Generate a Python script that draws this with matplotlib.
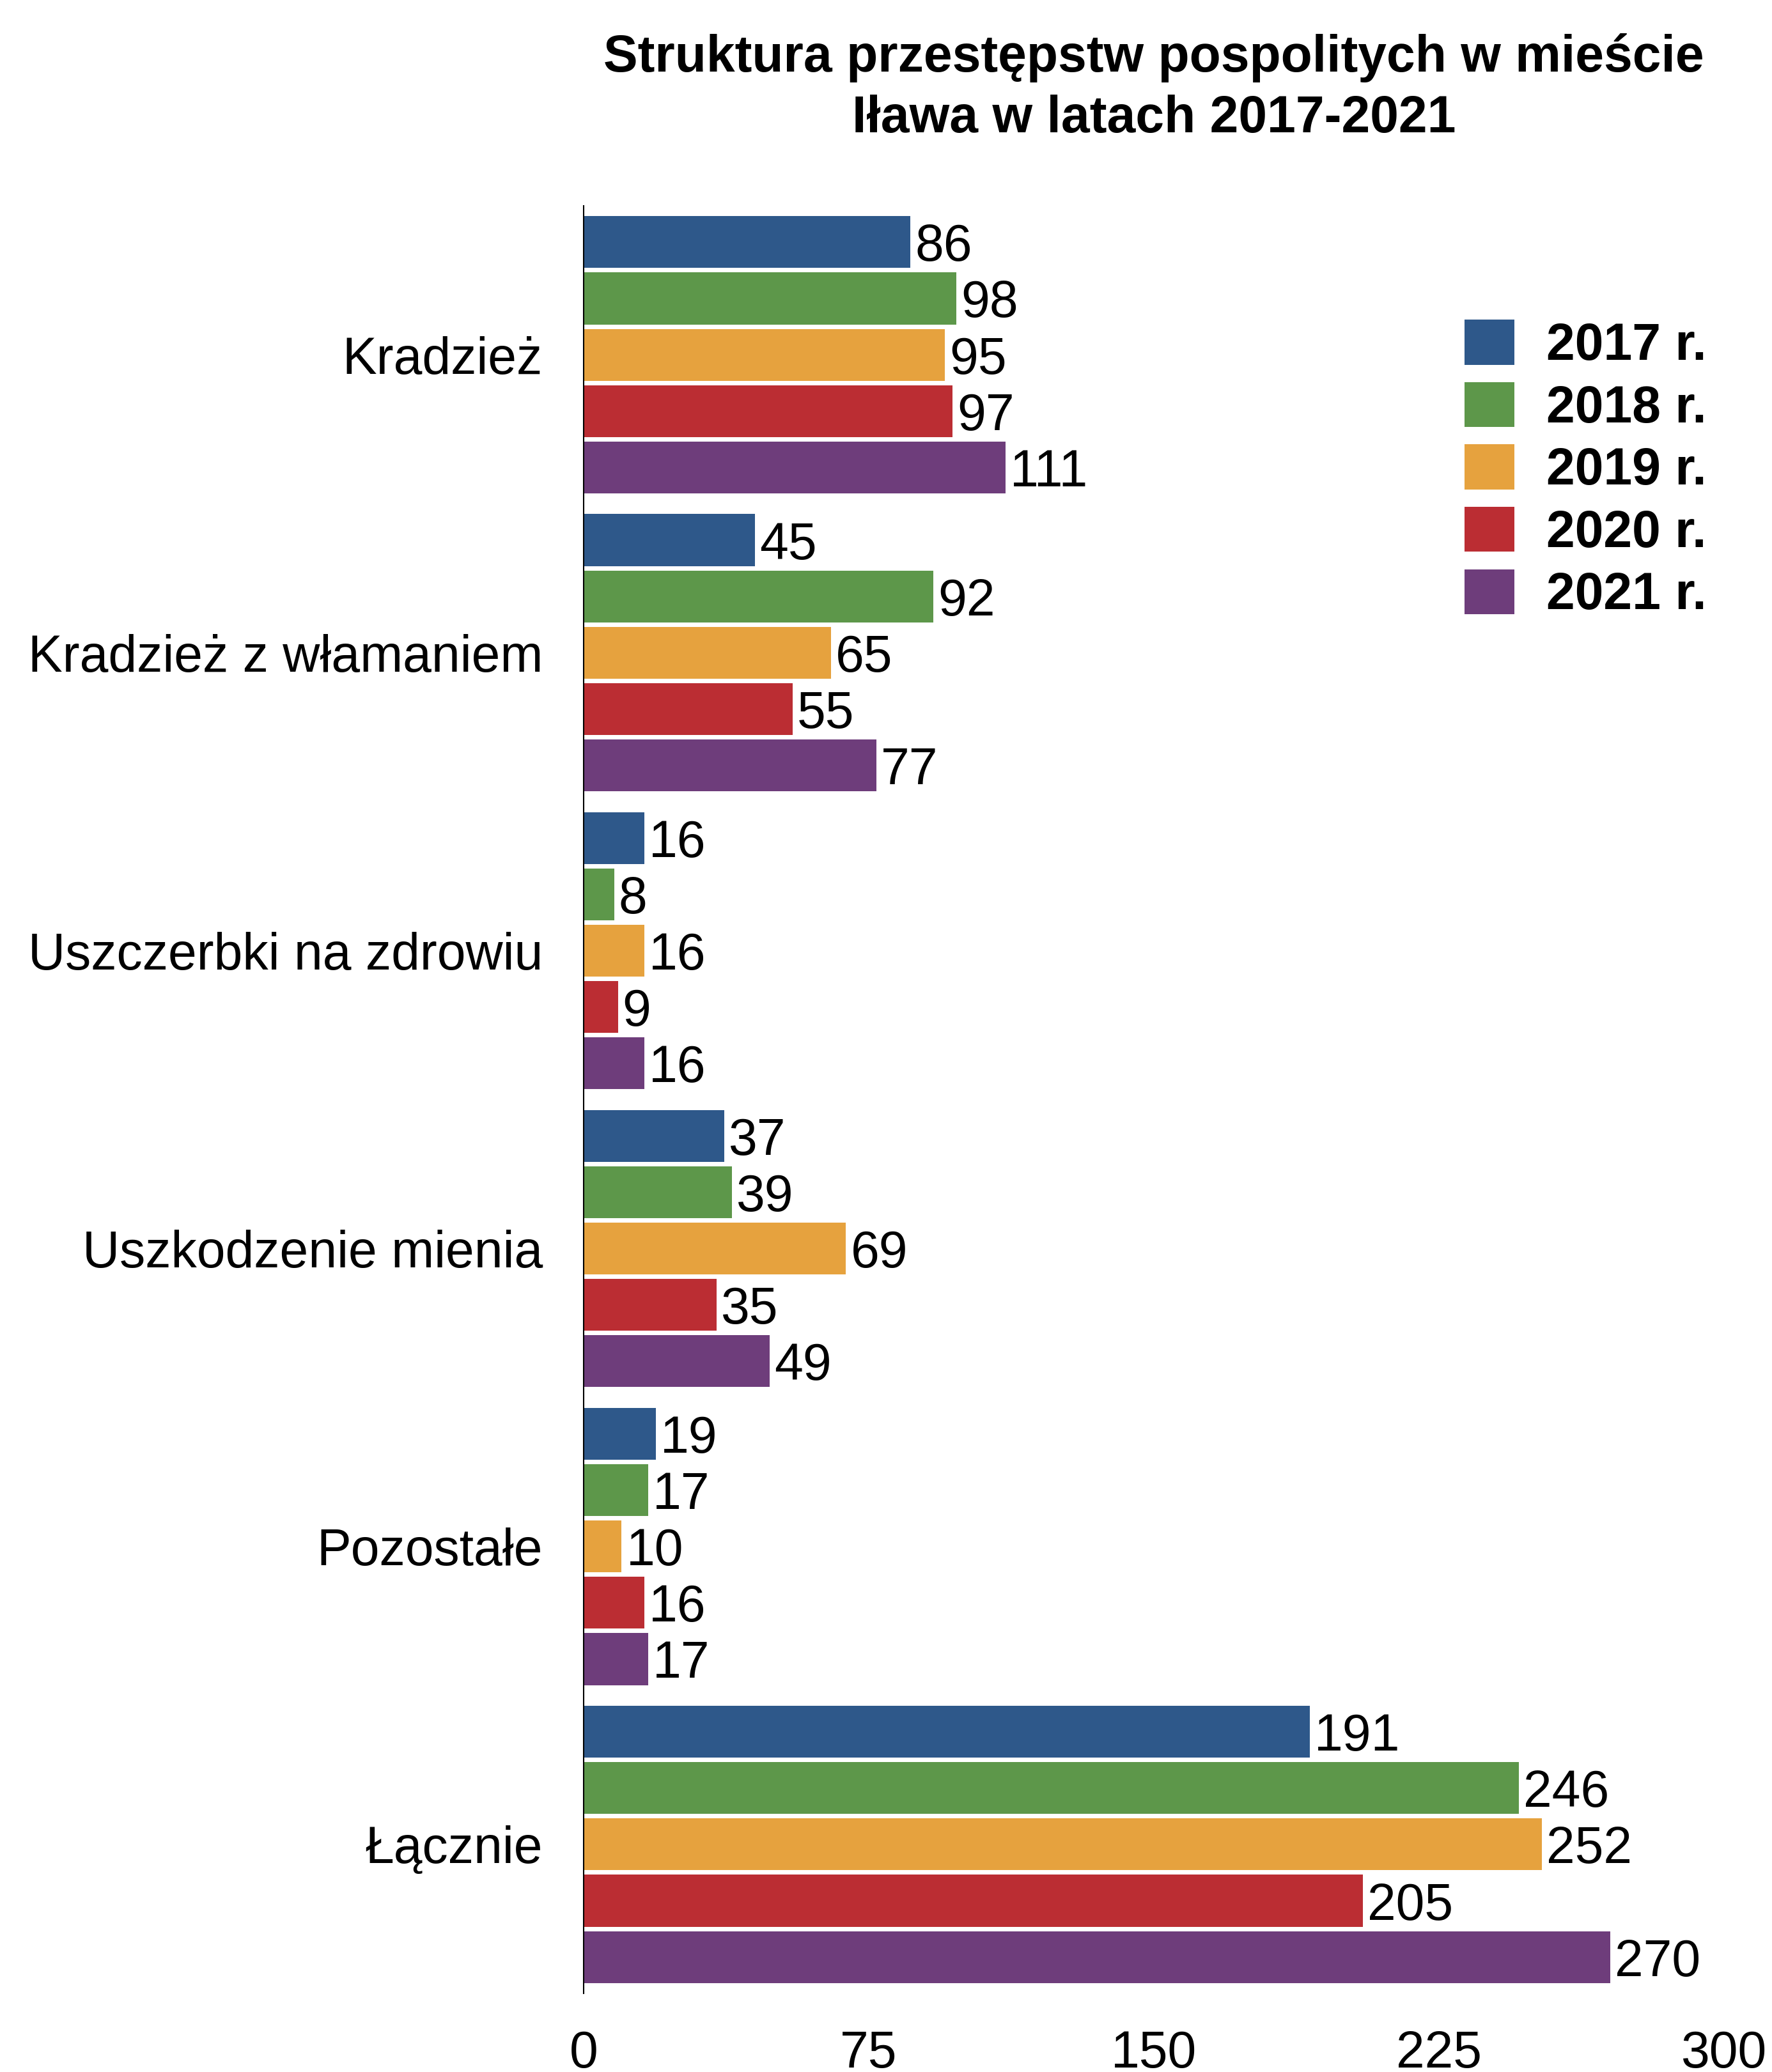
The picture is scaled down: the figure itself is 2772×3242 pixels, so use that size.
import matplotlib
matplotlib.use("Agg")
import matplotlib.pyplot as plt
import numpy as np

plt.rcParams['font.family'] = ['Liberation Sans', 'DejaVu Sans']

categories = ["Kradzież", "Kradzież z włamaniem", "Uszczerbki na zdrowiu",
              "Uszkodzenie mienia", "Pozostałe", "Łącznie"]
years = ["2017 r.", "2018 r.", "2019 r.", "2020 r.", "2021 r."]
v2017 = [86, 45, 16, 37, 19, 191]
v2018 = [98, 92, 8, 39, 17, 246]
v2019 = [95, 65, 16, 69, 10, 252]
v2020 = [97, 55, 9, 35, 16, 205]
v2021 = [111, 77, 16, 49, 17, 270]
series = [v2017, v2018, v2019, v2020, v2021]
colors = ["#2E588A", "#5D974A", "#E6A23E", "#BB2D33", "#6E3D7B"]
xticks = [0, 75, 150, 225, 300]
title = "Struktura przestępstw pospolitych w mieście\nIława w latach 2017-2021"

W, H, DPI = 2772, 3242, 100
fig = plt.figure(figsize=(W / DPI, H / DPI), dpi=DPI)
left, right, top, bottom = 913, 2697, 322, 3119
ax = fig.add_axes([left / W, 1 - bottom / H, (right - left) / W, (bottom - top) / H])

FS = 58
pitch = 0.189
height = 0.174
y = np.arange(len(categories))
handles = []
for k, (vals, c, lab) in enumerate(zip(series, colors, years)):
    ypos = y + (k - 2) * pitch
    bars = ax.barh(ypos, vals, height=height, color=c, label=lab)
    handles.append(bars)
    for yy, v in zip(ypos, vals):
        ax.text(v + 1.2, yy, str(v), va='center_baseline', ha='left', fontsize=FS)

ax.set_ylim(len(categories) - 0.5, -0.5)
ax.set_xlim(0, 300)
ax.set_yticks(y)
ax.set_yticklabels(categories, fontsize=FS)
ax.set_xticks(xticks)
ax.set_xticklabels([str(t) for t in xticks], fontsize=FS)
ax.tick_params(axis='y', length=0, pad=46)
ax.tick_params(axis='x', length=0, pad=41)
for s in ['top', 'right', 'bottom']:
    ax.spines[s].set_visible(False)
ax.spines['left'].set_linewidth(1.5)
ax.spines['left'].set_color('black')

fig.text((left + right) / 2 / W, 1 - 52 / H, title, ha='center', va='top',
         fontsize=FS, fontweight='bold', linespacing=1.32)

leg = ax.legend(handles=handles, loc='upper left',
                bbox_to_anchor=(2291 / W, 1 - 500 / H), bbox_transform=fig.transFigure,
                frameon=False, prop={'weight': 'bold', 'size': FS},
                handlelength=0.97, handleheight=0.97, handletextpad=0.62,
                labelspacing=0.22, borderpad=0, borderaxespad=0)

fig.savefig("out.png", dpi=DPI)
